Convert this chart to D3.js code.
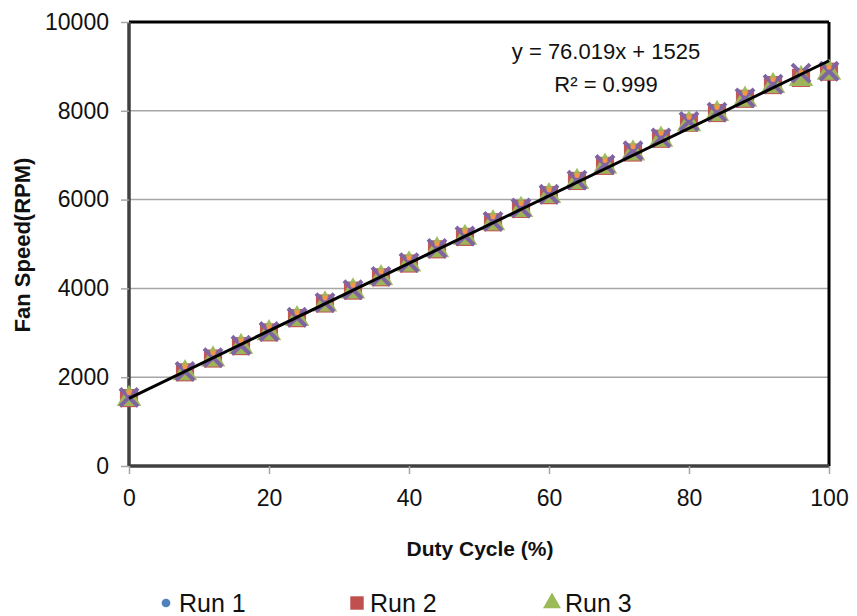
<!DOCTYPE html>
<html><head><meta charset="utf-8">
<script src="https://cdn.jsdelivr.net/npm/d3@7"></script>
<style>body{margin:0;background:#fff}</style>
</head><body>
<svg id="c" width="857" height="616"></svg>
<script>
const duty = [0, 8, 12, 16, 20, 24, 28, 32, 36, 40, 44, 48, 52, 56, 60, 64, 68, 72, 76, 80, 84, 88, 92, 96, 100];
const run1 = [1540, 2120, 2430, 2710, 3020, 3340, 3670, 3960, 4260, 4570, 4890, 5170, 5500, 5800, 6110, 6430, 6770, 7080, 7380, 7740, 7960, 8280, 8590, 8760, 8870];
const run2 = [1530, 2110, 2420, 2700, 3010, 3330, 3660, 3950, 4250, 4560, 4880, 5160, 5490, 5790, 6100, 6420, 6760, 7060, 7370, 7730, 7950, 8270, 8580, 8740, 8880];
const run3 = [1510, 2090, 2400, 2680, 2990, 3310, 3640, 3930, 4230, 4540, 4860, 5140, 5470, 5770, 6080, 6400, 6740, 7040, 7350, 7700, 7930, 8250, 8560, 8720, 8860];
const run4 = [1545, 2130, 2440, 2720, 3030, 3350, 3680, 3970, 4270, 4580, 4900, 5180, 5510, 5810, 6120, 6440, 6790, 7100, 7390, 7760, 7970, 8290, 8600, 8850, 8890];
const yTicks = [0, 2000, 4000, 6000, 8000, 10000];
const xTicks = [0, 20, 40, 60, 80, 100];
const slope = 76.019, intercept = 1525;
const eqLines = ["y = 76.019x + 1525", "R² = 0.999"];
const legendNames = ["Run 1", "Run 2", "Run 3"];

const svg = d3.select("#c");
const font = "'Liberation Sans', Arial, sans-serif";
const L = 129, R = 829, T = 22, B = 466;
const x = d3.scaleLinear().domain([0, 100]).range([L, R]);
const y = d3.scaleLinear().domain([0, 10000]).range([B, T]);

// gridlines
svg.append("g").selectAll("line").data(yTicks.filter(d => d > 0 && d < 10000)).join("line")
  .attr("x1", L).attr("x2", R).attr("y1", d => y(d)).attr("y2", d => y(d))
  .attr("stroke", "#a6a6a6").attr("stroke-width", 1.5);

// top/right border
svg.append("line").attr("x1", L).attr("x2", R).attr("y1", T).attr("y2", T).attr("stroke", "#000").attr("stroke-width", 3);
svg.append("line").attr("x1", R).attr("x2", R).attr("y1", T).attr("y2", B).attr("stroke", "#000").attr("stroke-width", 3);

// axes
const ya = svg.append("g").attr("transform", `translate(${L},0)`)
  .call(d3.axisLeft(y).tickValues(yTicks).tickSize(8).tickPadding(12).tickFormat(d3.format("d")));
const xa = svg.append("g").attr("transform", `translate(0,${B})`)
  .call(d3.axisBottom(x).tickValues(xTicks).tickSize(8).tickPadding(16).tickFormat(d3.format("d")));
[ya, xa].forEach(g => {
  g.select(".domain").attr("stroke", "#404040").attr("stroke-width", 3.5);
  g.selectAll(".tick line").attr("stroke", "#a6a6a6").attr("stroke-width", 1.5);
  g.selectAll("text").attr("font-family", font).attr("font-size", 23).attr("fill", "#111");
});
ya.select(".domain").attr("d", `M0,${B}V${T}`);
xa.select(".domain").attr("d", `M${L},0H${R}`);

// markers
const sym = d3.symbol();
const series = [
  {vals: run1, type: d3.symbolCircle, size: 180, color: "#4F81BD"},
  {vals: run2, type: d3.symbolSquare, size: 330, color: "#C0504D"},
  {vals: run3, type: d3.symbolTriangle, size: 260, color: "#9BBB59"},
];
series.forEach(s => {
  svg.append("g").selectAll("path").data(duty).join("path")
    .attr("transform", (d, i) => `translate(${x(d)},${y(s.vals[i])})`)
    .attr("d", sym.type(s.type).size(s.size)())
    .attr("fill", s.color).attr("opacity", 0.95);
});
// X markers (purple)
svg.append("g").selectAll("path").data(duty).join("path")
  .attr("transform", (d, i) => `translate(${x(d)},${y(run4[i])})`)
  .attr("d", "M-9,-9L9,9M9,-9L-9,9")
  .attr("stroke", "#8064A2").attr("stroke-width", 4).attr("fill", "none");
// small orange marks
svg.append("g").selectAll("circle").data(duty).join("circle")
  .attr("cx", d => x(d)).attr("cy", (d, i) => y(run1[i]) - 5).attr("r", 2.5)
  .attr("fill", "#F79646");

// trendline
svg.append("line")
  .attr("x1", x(0)).attr("y1", y(intercept))
  .attr("x2", x(100)).attr("y2", y(intercept + slope * 100))
  .attr("stroke", "#000").attr("stroke-width", 3);

// equation
svg.append("g").selectAll("text").data(eqLines).join("text")
  .attr("x", 606).attr("y", (d, i) => 59 + i * 33)
  .attr("text-anchor", "middle").attr("font-family", font).attr("font-size", 22).attr("fill", "#111")
  .text(d => d);

// axis titles
svg.append("text").attr("transform", "translate(30,245) rotate(-90)")
  .attr("text-anchor", "middle").attr("font-family", font).attr("font-weight", "bold")
  .attr("font-size", 22).attr("fill", "#111").text("Fan Speed(RPM)");
svg.append("text").attr("x", 480).attr("y", 556)
  .attr("text-anchor", "middle").attr("font-family", font).attr("font-weight", "bold")
  .attr("font-size", 21).attr("fill", "#111").text("Duty Cycle (%)");

// legend
const lx = [166, 357, 552];
const lg = svg.append("g");
legendNames.forEach((n, i) => {
  const s = series[i];
  const sz = [60, 180, 140][i];
  lg.append("path").attr("transform", `translate(${lx[i]},603)`)
    .attr("d", d3.symbol().type(s.type).size(sz)()).attr("fill", s.color);
  lg.append("text").attr("x", lx[i] + 13).attr("y", 612)
    .attr("font-family", font).attr("font-size", 25).attr("fill", "#111").text(n);
});
</script>
</body></html>
